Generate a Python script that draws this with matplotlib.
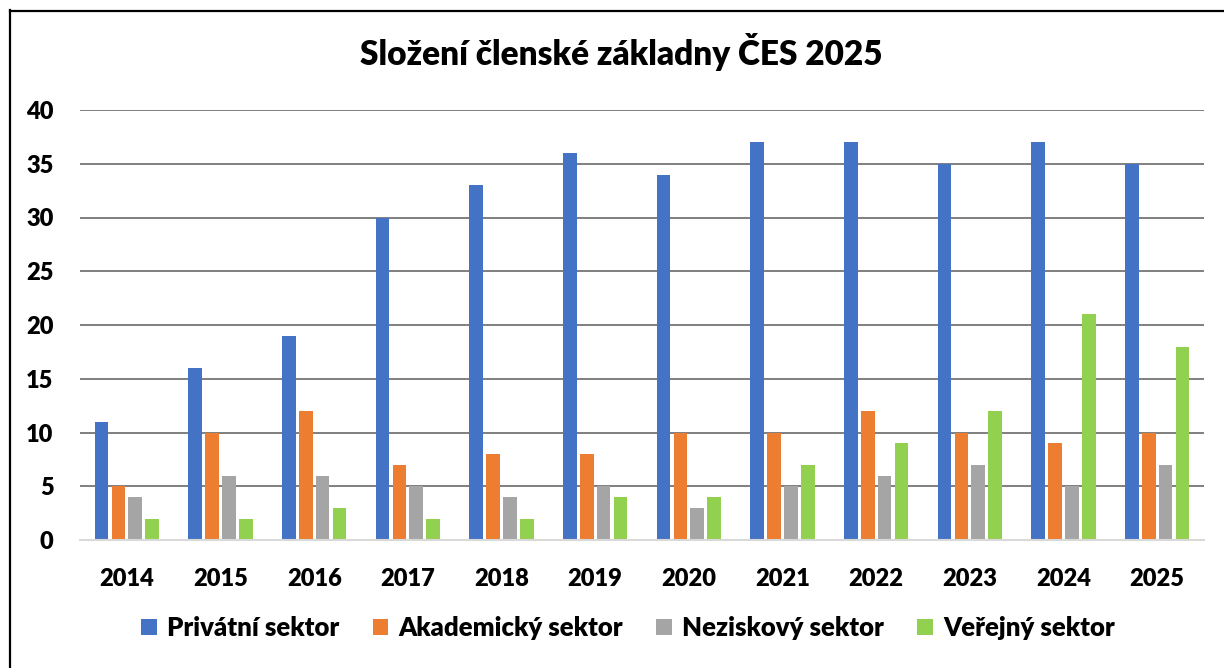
#!/usr/bin/env python3

import numpy as np
import matplotlib
matplotlib.use("Agg")
import matplotlib.pyplot as plt
from matplotlib.lines import Line2D

years = ["2014", "2015", "2016", "2017", "2018", "2019",
         "2020", "2021", "2022", "2023", "2024", "2025"]
privatni = [11, 16, 19, 30, 33, 36, 34, 37, 37, 35, 37, 35]
akademicky = [5, 10, 12, 7, 8, 8, 10, 10, 12, 10, 9, 10]
neziskovy = [4, 6, 6, 5, 4, 5, 3, 5, 6, 7, 5, 7]
verejny = [2, 2, 3, 2, 2, 4, 4, 7, 9, 12, 21, 18]

labels = ["Privátní sektor", "Akademický sektor", "Neziskový sektor", "Veřejný sektor"]
colors = ["#4472C4", "#ED7D31", "#A5A5A5", "#92D050"]

plt.rcParams["font.family"] = ["Lato", "DejaVu Sans"]
plt.rcParams["font.weight"] = "heavy"

W, H = 1224, 668
fig = plt.figure(figsize=(W / 100, H / 100), dpi=100)
ax = fig.add_axes([80 / W, 128 / H, 1124 / W, 430 / H])

x = np.arange(len(years))
step = 0.18
for i, (vals, lab, col) in enumerate(zip([privatni, akademicky, neziskovy, verejny], labels, colors)):
    ax.bar(x + (i - 1.5) * step, vals, width=0.145, color=col, label=lab, zorder=3)

ax.set_xlim(-0.5, len(years) - 0.5)
ax.set_ylim(0, 40)
ax.set_yticks(range(0, 41, 5))
ax.set_xticks(x, years)
ax.yaxis.grid(True, color="#7f7f7f", linewidth=1.4, zorder=0)
ax.tick_params(axis="both", length=0, labelsize=17)
ax.tick_params(axis="y", pad=19)
ax.tick_params(axis="x", pad=20)
for s in ["top", "right", "left"]:
    ax.spines[s].set_visible(False)
ax.spines["bottom"].set_color("#d9d9d9")
ax.spines["bottom"].set_linewidth(1.5)
ax.spines["bottom"].set_zorder(4)

fig.text(621 / W, 1 - 52 / H, "Složení členské základny ČES 2025",
         ha="center", va="center", fontsize=24, fontweight="heavy")

fig.legend(loc="center", bbox_to_anchor=(628 / W, 40 / H), ncol=4, frameon=False,
           fontsize=18.5, handlelength=0.6, handleheight=0.6, handletextpad=0.4,
           columnspacing=1.3)

# chart border (top and left edges visible)
fig.add_artist(Line2D([9.5 / W, 9.5 / W], [0, 1 - 10 / H], color="black", lw=1.6))
fig.add_artist(Line2D([9.5 / W, 1], [1 - 10.5 / H, 1 - 10.5 / H], color="black", lw=1.6))

fig.savefig("out.png", dpi=100)
